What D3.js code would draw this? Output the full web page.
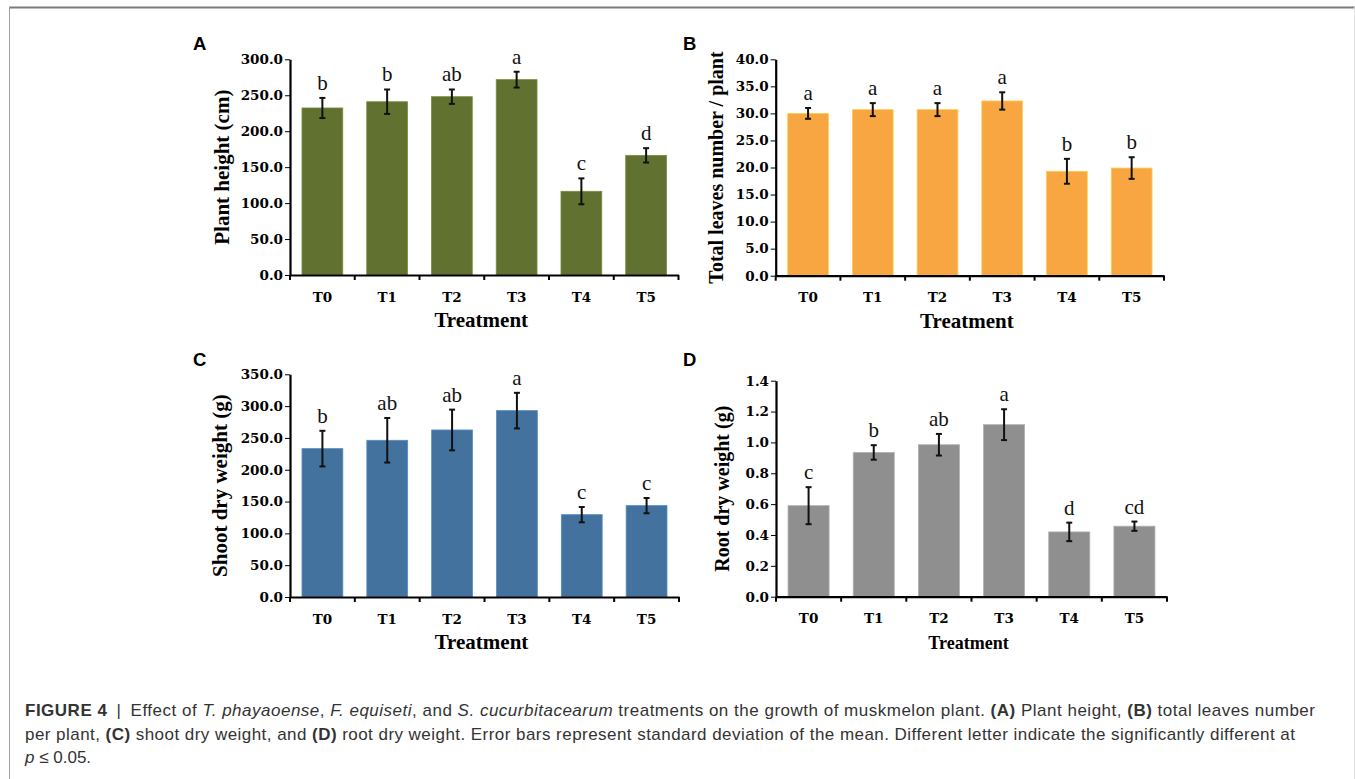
<!DOCTYPE html>
<html>
<head>
<meta charset="utf-8">
<script src="https://cdn.jsdelivr.net/npm/d3@7"></script>
<style>
  body { margin: 0; background: #fff; }
  .tick text { font-family: "DejaVu Serif", serif; font-weight: bold; fill: #000; }
  .caption { font-family: "Liberation Sans", Arial, sans-serif; font-size: 17px; fill: #333; }
</style>
</head>
<body>
<svg id="fig"></svg>
<script>
var treatments = ["T0", "T1", "T2", "T3", "T4", "T5"];

// A: plant height (cm)
var heightMean = [232.3, 241.0, 248.0, 271.7, 116.4, 166.4];
var heightSd = [14, 17, 10, 11, 18, 10];
var heightLetters = ["b", "b", "ab", "a", "c", "d"];

// B: total leaves number / plant
var leavesMean = [30.0, 30.7, 30.7, 32.3, 19.3, 19.9];
var leavesSd = [1.0, 1.2, 1.2, 1.6, 2.3, 2.0];
var leavesLetters = ["a", "a", "a", "a", "b", "b"];

// C: shoot dry weight (g)
var shootMean = [233.2, 246.3, 262.5, 292.9, 129.4, 143.6];
var shootSd = [28, 35, 32, 28, 12, 12];
var shootLetters = ["b", "ab", "ab", "a", "c", "c"];

// D: root dry weight (g)
var rootMean = [0.59, 0.935, 0.985, 1.115, 0.42, 0.457];
var rootSd = [0.12, 0.047, 0.07, 0.10, 0.06, 0.03];
var rootLetters = ["c", "b", "ab", "a", "d", "cd"];

var panels = [
    {id: "A", mean: heightMean, sd: heightSd, letters: heightLetters, max: 300, step: 50,
     title: "Plant height (cm)", color: "#617230",
     left: 290, right: 678.5, top: 59.3, bottom: 275, titleX: -68, titleSize: 21, xTitleSize: 21,
     labelX: 193, labelY: 50},
    {id: "B", mean: leavesMean, sd: leavesSd, letters: leavesLetters, max: 40, step: 5,
     title: "Total leaves number / plant", color: "#F7A642",
     left: 775.7, right: 1164, top: 59.3, bottom: 275.7, titleX: -60, titleSize: 20, xTitleSize: 21,
     labelX: 683, labelY: 50},
    {id: "C", mean: shootMean, sd: shootSd, letters: shootLetters, max: 350, step: 50,
     title: "Shoot dry weight (g)", color: "#44729F",
     left: 290, right: 679, top: 374.3, bottom: 597, titleX: -70, titleSize: 21, xTitleSize: 21,
     labelX: 193, labelY: 366},
    {id: "D", mean: rootMean, sd: rootSd, letters: rootLetters, max: 1.4, step: 0.2,
     title: "Root dry weight (g)", color: "#8F8F8F",
     left: 776, right: 1167, top: 380.7, bottom: 596.7, titleX: -54, titleSize: 20, xTitleSize: 18,
     labelX: 683, labelY: 366}
];

var svg = d3.select("#fig")
    .attr("width", 1355)
    .attr("height", 779);

// frame around the figure
svg.append("line")
    .attr("x1", 9).attr("x2", 1355).attr("y1", 7.5).attr("y2", 7.5)
    .attr("stroke", "#7a7a7a").attr("stroke-width", 2);
svg.append("line")
    .attr("x1", 9.5).attr("x2", 9.5).attr("y1", 7).attr("y2", 779)
    .attr("stroke", "#a0a0a0").attr("stroke-width", 1);
svg.append("line")
    .attr("x1", 1354.5).attr("x2", 1354.5).attr("y1", 7).attr("y2", 779)
    .attr("stroke", "#e2e2e2").attr("stroke-width", 1);

panels.forEach(function (p) {
    var w = p.right - p.left,
        h = p.bottom - p.top;

    var x = d3.scaleBand()
        .domain(treatments)
        .range([0, w])
        .paddingInner(0.37)
        .paddingOuter(0.185);

    var y = d3.scaleLinear()
        .domain([0, p.max])
        .range([h, 0]);

    var g = svg.append("g")
        .attr("transform", "translate(" + p.left + "," + p.top + ")");

    // bars
    g.selectAll("rect.bar")
        .data(p.mean)
        .enter().append("rect")
        .attr("class", "bar")
        .attr("x", function (d, i) { return x(treatments[i]); })
        .attr("y", function (d) { return y(d); })
        .attr("width", x.bandwidth())
        .attr("height", function (d) { return h - y(d); })
        .attr("fill", p.color)
        .attr("stroke", d3.color(p.color).brighter(0.6))
        .attr("stroke-width", 0.8);

    // error bars
    var eb = g.selectAll("g.err")
        .data(p.mean)
        .enter().append("g")
        .attr("class", "err")
        .attr("transform", function (d, i) {
            return "translate(" + (x(treatments[i]) + x.bandwidth() / 2) + ",0)";
        });
    eb.append("line")
        .attr("y1", function (d, i) { return y(d + p.sd[i]); })
        .attr("y2", function (d, i) { return y(d - p.sd[i]); })
        .attr("stroke", "#111").attr("stroke-width", 2);
    eb.append("line")
        .attr("x1", -3).attr("x2", 3)
        .attr("y1", function (d, i) { return y(d + p.sd[i]); })
        .attr("y2", function (d, i) { return y(d + p.sd[i]); })
        .attr("stroke", "#111").attr("stroke-width", 2);
    eb.append("line")
        .attr("x1", -3).attr("x2", 3)
        .attr("y1", function (d, i) { return y(d - p.sd[i]); })
        .attr("y2", function (d, i) { return y(d - p.sd[i]); })
        .attr("stroke", "#111").attr("stroke-width", 2);

    // significance letters
    eb.append("text")
        .attr("y", function (d, i) { return y(d + p.sd[i]) - 8; })
        .attr("text-anchor", "middle")
        .attr("font-family", "Liberation Serif, serif")
        .attr("font-size", "21px")
        .attr("fill", "#111")
        .text(function (d, i) { return p.letters[i]; });

    // y axis
    var yAxis = g.append("g")
        .call(d3.axisLeft(y)
            .tickValues(d3.range(0, p.max + p.step / 2, p.step))
            .tickFormat(d3.format(".1f"))
            .tickSize(5)
            .tickPadding(2)
            .tickSizeOuter(0));
    yAxis.selectAll("text").style("font-size", "13.5px");

    // x axis labels
    var xAxis = g.append("g")
        .attr("transform", "translate(0," + h + ")")
        .call(d3.axisBottom(x).tickSize(0).tickPadding(17).tickSizeOuter(0));
    xAxis.selectAll("text").style("font-size", "13.5px");
    xAxis.selectAll(".tick line").remove();

    // x ticks at band boundaries
    g.selectAll("line.bound")
        .data(d3.range(treatments.length + 1))
        .enter().append("line")
        .attr("class", "bound")
        .attr("x1", function (i) { return i * x.step(); })
        .attr("x2", function (i) { return i * x.step(); })
        .attr("y1", h).attr("y2", h + 5)
        .attr("stroke", "#000").attr("stroke-width", 2);

    g.selectAll(".domain").attr("stroke", "#000").attr("stroke-width", 2.2);

    // axis titles
    g.append("text")
        .attr("transform", "translate(" + p.titleX + "," + (h / 2) + ") rotate(-90)")
        .attr("text-anchor", "middle")
        .attr("dy", "0.35em")
        .attr("font-family", "Liberation Serif, serif")
        .attr("font-weight", "bold")
        .attr("font-size", p.titleSize + "px")
        .text(p.title);

    g.append("text")
        .attr("x", w / 2 - 3)
        .attr("y", h + 52)
        .attr("text-anchor", "middle")
        .attr("font-family", "Liberation Serif, serif")
        .attr("font-weight", "bold")
        .attr("font-size", p.xTitleSize + "px")
        .text("Treatment");

    // panel letter
    svg.append("text")
        .attr("x", p.labelX)
        .attr("y", p.labelY)
        .attr("font-family", "Liberation Sans, Arial, sans-serif")
        .attr("font-weight", "bold")
        .attr("font-size", "18.5px")
        .text(p.id);
});

// caption
var captionLines = [
    [["FIGURE 4", "b"], [" \u2009|\u2009 Effect of ", ""], ["T. phayaoense", "i"], [", ", ""], ["F. equiseti", "i"],
     [", and ", ""], ["S. cucurbitacearum", "i"], [" treatments on the growth of muskmelon plant. ", ""],
     ["(A)", "b"], [" Plant height, ", ""], ["(B)", "b"], [" total leaves number", ""]],
    [["per plant, ", ""], ["(C)", "b"], [" shoot dry weight, and ", ""], ["(D)", "b"],
     [" root dry weight. Error bars represent standard deviation of the mean. Different letter indicate the significantly different at", ""]],
    [["p", "i"], [" \u2264 0.05.", ""]]
];
var captionY = [716, 740, 763];
var captionLen = [1290, 1270, null];

captionLines.forEach(function (line, li) {
    var t = svg.append("text")
        .attr("class", "caption")
        .attr("x", 25)
        .attr("y", captionY[li])
        .attr("xml:space", "preserve");
    if (captionLen[li]) {
        t.attr("textLength", captionLen[li]).attr("lengthAdjust", "spacing");
    }
    line.forEach(function (seg) {
        t.append("tspan")
            .attr("font-weight", seg[1] === "b" ? "bold" : null)
            .attr("font-style", seg[1] === "i" ? "italic" : null)
            .text(seg[0]);
    });
});
</script>
</body>
</html>
